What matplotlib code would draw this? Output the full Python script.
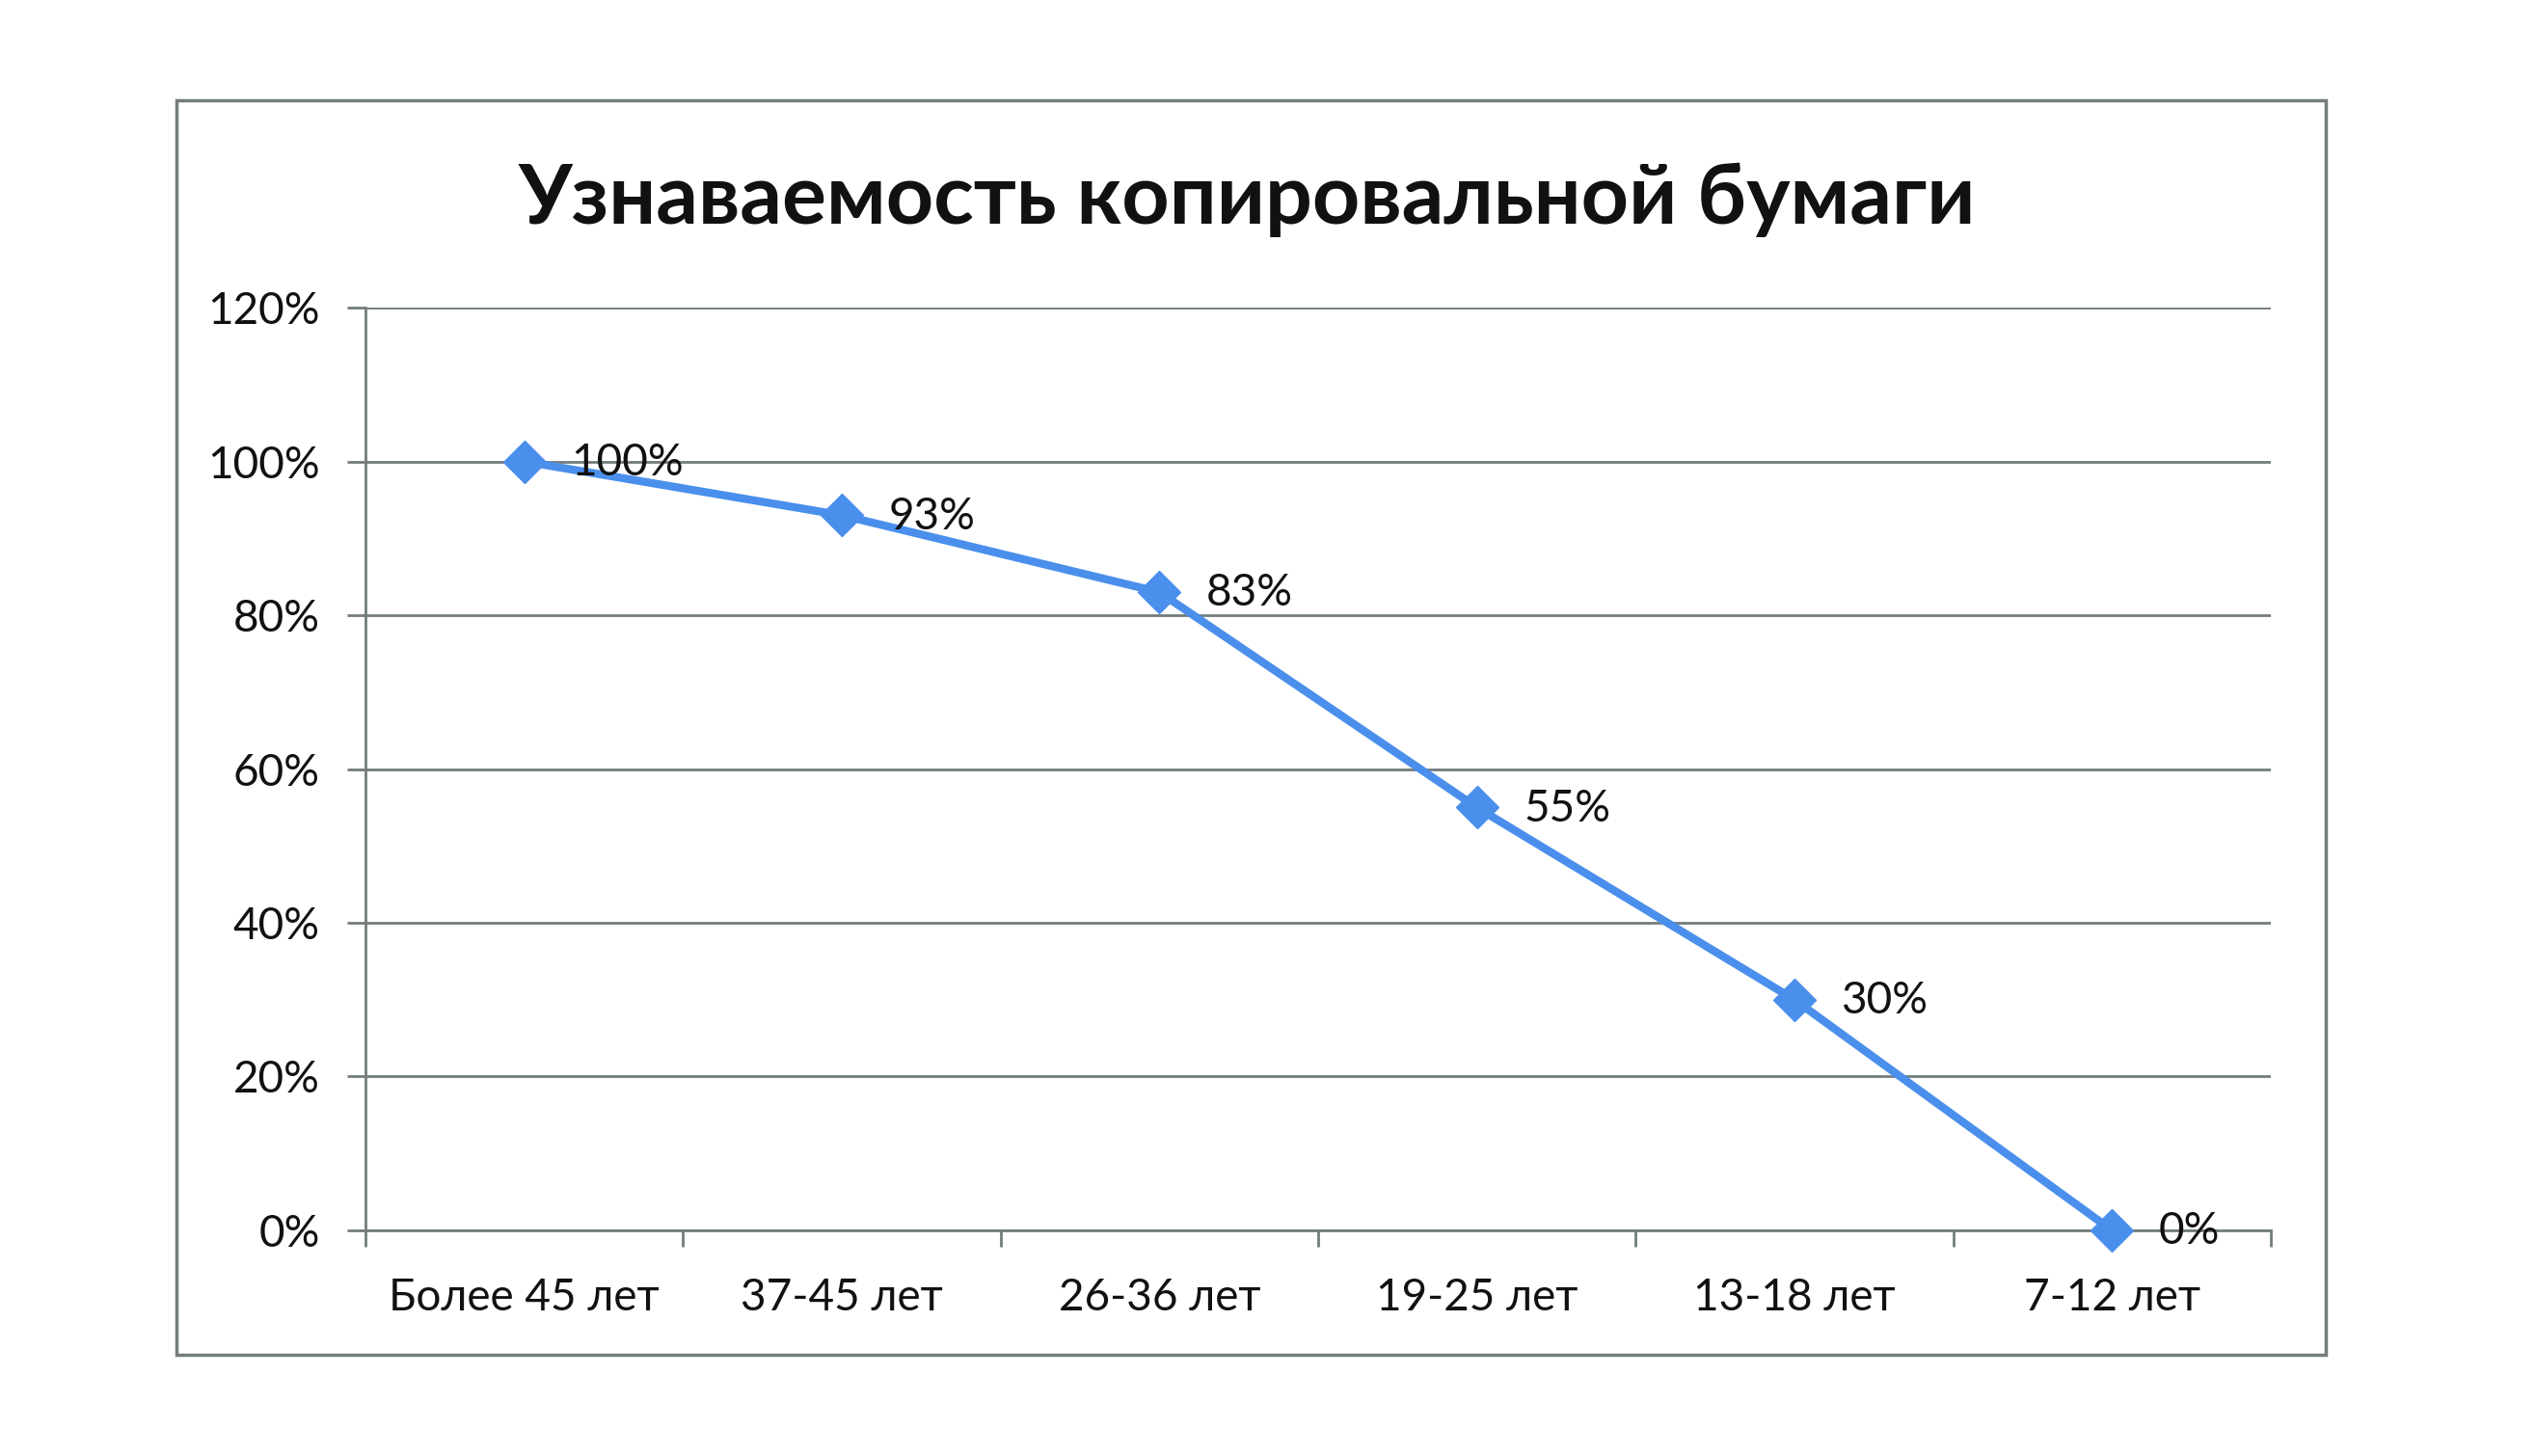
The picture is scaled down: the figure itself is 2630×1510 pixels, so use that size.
import matplotlib
matplotlib.use("Agg")
import matplotlib.pyplot as plt
from matplotlib.patches import Rectangle
from matplotlib.ticker import FixedLocator, FuncFormatter

TITLE      = "Узнаваемость копировальной бумаги"
CATEGORIES = ["Более 45 лет", "37-45 лет", "26-36 лет", "19-25 лет", "13-18 лет", "7-12 лет"]
VALUES     = [100, 93, 83, 55, 30, 0]          # percent
Y_TICKS    = [0, 20, 40, 60, 80, 100, 120]

LINE_C = "#4a8fec"
GRID_C = "#737c7c"
TEXT_C = "#111111"


def main():
    plt.rcParams["font.family"] = ["Lato", "DejaVu Sans"]

    fig = plt.figure(figsize=(26.3, 15.1), dpi=100)
    ax = fig.add_axes([0.1441, 0.1550, 0.7513, 0.6337])

    # outer chart frame
    fig.patches.append(Rectangle((0.0696, 0.0695), 0.8475, 0.8616, transform=fig.transFigure,
                                 fill=False, edgecolor=GRID_C, lw=2.5))

    fig.text(0.4916, 0.8464, TITLE, ha="center", va="baseline",
             fontsize=62, fontweight="bold", color=TEXT_C)

    x = list(range(len(CATEGORIES)))
    ax.plot(x, VALUES, color=LINE_C, lw=6, marker="D", ms=22, mec=LINE_C, mfc=LINE_C,
            zorder=5, clip_on=False)
    for xi, v in zip(x, VALUES):
        ax.annotate(f"{v}%", (xi, v), xytext=(35, -1), textcoords="offset points",
                    ha="left", va="center", fontsize=33, color=TEXT_C, zorder=6)

    ax.set_xlim(-0.5, len(CATEGORIES) - 0.5)
    ax.set_ylim(0, 120)

    ax.yaxis.set_major_locator(FixedLocator(Y_TICKS))
    ax.yaxis.set_major_formatter(FuncFormatter(lambda v, _: f"{v:.0f}%"))
    ax.grid(axis="y", color=GRID_C, lw=2)
    ax.set_axisbelow(True)

    # category labels in the middle, tick marks on the boundaries
    ax.set_xticks(x)
    ax.set_xticklabels(CATEGORIES)
    ax.set_xticks([i - 0.5 for i in range(len(CATEGORIES) + 1)], minor=True)
    ax.tick_params(axis="x", which="major", length=0, pad=35, labelsize=33, labelcolor=TEXT_C)
    ax.tick_params(axis="x", which="minor", length=12, width=2, color=GRID_C, direction="out")
    ax.tick_params(axis="y", length=14, width=2, color=GRID_C, pad=20,
                   labelsize=33, labelcolor=TEXT_C, direction="out")

    for side in ("top", "right"):
        ax.spines[side].set_visible(False)
    for side in ("left", "bottom"):
        ax.spines[side].set_color(GRID_C)
        ax.spines[side].set_linewidth(2)

    fig.savefig("out.png", dpi=100, facecolor="white")


if __name__ == "__main__":
    main()
